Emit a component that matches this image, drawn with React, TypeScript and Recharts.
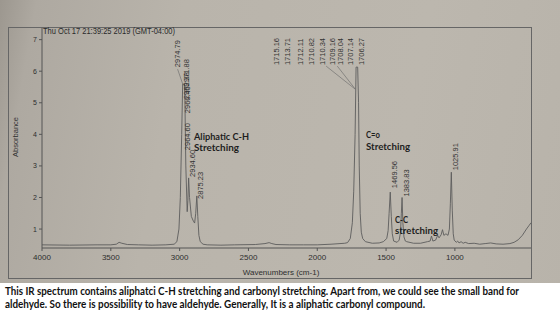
import React from 'react';
import { ComposedChart, Line, Scatter, XAxis, YAxis } from 'recharts';

// Spectrum: wavenumber (cm-1) and absorbance
const wavenumbers = [
  4000, 3800, 3600, 3500, 3460, 3440, 3420, 3380, 3300, 3200, 3100, 3040, 3020, 3005, 2995, 2985,
  2978, 2974.79, 2966, 2962, 2955, 2945, 2940, 2934.6, 2928, 2915, 2900, 2891, 2883, 2875.23, 2868,
  2860, 2850, 2830, 2800, 2700, 2600, 2450, 2380, 2350, 2330, 2300, 2200, 2100, 2000, 1900, 1800,
  1780, 1760, 1745, 1735, 1725, 1718, 1706.27, 1700, 1695, 1688, 1680, 1670, 1650, 1600, 1550,
  1520, 1495, 1485, 1478, 1469.56, 1462, 1455, 1445, 1420, 1405, 1395, 1389, 1383.83, 1378, 1370,
  1360, 1350, 1300, 1250, 1200, 1180, 1170, 1160, 1140, 1125, 1115, 1100, 1090, 1080, 1065, 1050,
  1040, 1033, 1025.91, 1019, 1012, 1005, 990, 980, 970, 955, 940, 925, 900, 860, 820, 780, 740,
  700, 650, 600, 570, 540, 510, 480, 460, 447,
];
const absorbance = [
  0.5, 0.49, 0.5, 0.5, 0.52, 0.58, 0.55, 0.51, 0.5, 0.49, 0.5, 0.52, 0.6, 1.0, 2.0, 4.0,
  5.59, 5.59, 5.59, 5.2, 3.0, 1.55, 1.9, 2.62, 2.0, 1.4, 1.25, 1.19, 1.5, 2.05, 1.4,
  0.8, 0.6, 0.52, 0.5, 0.49, 0.5, 0.51, 0.54, 0.57, 0.54, 0.51, 0.5, 0.5, 0.5, 0.52, 0.55,
  0.57, 0.7, 1.2, 2.2, 4.0, 6.13, 6.13, 5.0, 3.0, 1.5, 0.9, 0.7, 0.6, 0.55, 0.56,
  0.6, 0.7, 0.95, 1.5, 2.17, 1.4, 0.85, 0.62, 0.58, 0.65, 0.9, 1.5, 2.0, 1.2, 0.75,
  0.62, 0.6, 0.55, 0.55, 0.6, 0.62, 0.78, 0.62, 0.65, 0.8, 0.72, 0.82, 0.98, 0.8, 0.85, 0.8,
  1.0, 1.8, 2.8, 1.6, 0.85, 0.65, 0.58, 0.62, 0.56, 0.6, 0.55, 0.58, 0.54, 0.55, 0.52, 0.54, 0.56,
  0.53, 0.52, 0.54, 0.58, 0.66, 0.8, 1.0, 1.12, 1.2,
];

const xTicks = [4000, 3500, 3000, 2500, 2000, 1500, 1000];
const yTicks = [1, 2, 3, 4, 5, 6, 7];

// Peak picks: label text, wavenumber and height of the picked peak
const peakTexts = [
  '2974.79', '2971.88', '2969.38', '2966.45', '2964.60', '2934.60', '2875.23',
  '1715.16', '1713.71', '1712.11', '1710.82', '1710.34', '1709.16', '1708.04', '1707.14', '1706.27',
  '1469.56', '1383.83', '1025.91',
];
const peakWavenumbers = [
  2974.79, 2971.88, 2969.38, 2966.45, 2964.6, 2934.6, 2875.23,
  1715.16, 1713.71, 1712.11, 1710.82, 1710.34, 1709.16, 1708.04, 1707.14, 1706.27,
  1469.56, 1383.83, 1025.91,
];
const peakHeights = [
  5.59, 5.59, 5.59, 5.59, 5.59, 2.62, 2.05,
  6.13, 6.13, 6.13, 6.13, 6.13, 6.13, 6.13, 6.13, 6.13,
  2.17, 2.0, 2.8,
];

// layout of the peak labels (pixel offsets from the peak), and leader lines
const labelDx = [-5.5, 3, 3, 3, 3, 3.5, 3.5, -80, -69, -56.5, -46, -35, -25, -17, -7, 3.5, 4.5, 4, 4];
const labelDy = [-17, 2, 15, 29, 66, -1, 3, -2, -2, -2, -2, -2, -2, -2, -2, -2, -4, -1, -2];
const leaders: Record<number, number[]> = {
  0: [0, 2, 0, 1],
  11: [4, 1, -2, 22],
  12: [5, 1, -2, 22],
};

const spectrum = wavenumbers.map((wn, i) => ({ wn, abs: absorbance[i] }));
const peaks = peakWavenumbers.map((wn, i) => ({
  wn,
  abs: peakHeights[i],
  text: peakTexts[i],
  dx: labelDx[i],
  dy: labelDy[i],
  leader: leaders[i],
}));

const ARIAL = '"Liberation Sans", Arial, sans-serif';
const BOLD = 'Lato, "Open Sans", sans-serif';

const PeakLabel = (props: any) => {
  const { cx, cy, payload } = props;
  if (cx == null || cy == null) return <g />;
  const x = cx + payload.dx;
  const yb = cy + payload.dy;
  const ld = payload.leader;
  return (
    <g>
      {ld && (
        <line x1={x + ld[0]} y1={yb + ld[1]} x2={cx + ld[2]} y2={cy + ld[3]} stroke="#666" strokeWidth={0.6} />
      )}
      <text
        x={x}
        y={yb}
        transform={`rotate(-90 ${x} ${yb})`}
        fontSize={7.5}
        fontFamily={ARIAL}
        fill="#333"
        dominantBaseline="central"
        textAnchor="start"
      >
        {payload.text}
      </text>
    </g>
  );
};

export default function App() {
  return (
    <div
      style={{
        position: 'absolute',
        left: 0,
        top: 0,
        width: 560,
        height: 322,
        overflow: 'hidden',
        background: 'linear-gradient(100deg, #9c978f 0%, #aea9a1 6%, #b9b4ab 30%, #bcb7ae 70%, #b8b3aa 100%)',
      }}
    >
      <div style={{ position: 'absolute', left: 0, top: 0 }}>
        <ComposedChart width={560} height={283} margin={{ top: 27, right: 29, bottom: 0, left: 0 }}>
          <XAxis
            dataKey="wn"
            type="number"
            domain={[447, 4000]}
            reversed
            allowDataOverflow
            ticks={xTicks}
            tickSize={3}
            tickMargin={3}
            height={35}
            stroke="#555"
            tick={{ fontSize: 8, fill: '#2e2e2e', fontFamily: ARIAL }}
          />
          <YAxis
            type="number"
            domain={[0.4, 7.4]}
            allowDataOverflow
            ticks={yTicks}
            width={42}
            tickSize={3}
            tickMargin={2}
            stroke="#555"
            tick={{ fontSize: 7, fill: '#2e2e2e', fontFamily: ARIAL }}
          />
          <Line
            data={spectrum}
            dataKey="abs"
            type="linear"
            stroke="#5c5c5c"
            strokeWidth={0.9}
            dot={false}
            isAnimationActive={false}
          />
          <Scatter data={peaks} dataKey="abs" shape={PeakLabel} isAnimationActive={false} />
        </ComposedChart>
      </div>
      <svg
        width={560}
        height={322}
        style={{ position: 'absolute', left: 0, top: 0, pointerEvents: 'none' }}
      >
        <rect x={8.5} y={27.5} width={523} height={251} fill="none" stroke="#666" strokeWidth={1} />
        <text x={43} y={34} fontSize={8.3} fontFamily={ARIAL} fill="#2a2a2a" textLength={132} lengthAdjust="spacingAndGlyphs">
          Thu Oct 17 21:39:25 2019 (GMT-04:00)
        </text>
        <text
          x={15}
          y={137}
          transform="rotate(-90 15 137)"
          fontSize={7.5}
          fontFamily={ARIAL}
          fill="#333"
          textAnchor="middle"
          dominantBaseline="central"
        >
          Absorbance
        </text>
        <text x={281} y={275} fontSize={8} fontFamily={ARIAL} fill="#2e2e2e" textAnchor="middle">
          Wavenumbers (cm-1)
        </text>
        <g fontFamily={BOLD} fontWeight={700} fontSize={9.2} fill="#1e1e1e">
          <text x={194} y={139.5} textLength={55} lengthAdjust="spacingAndGlyphs">Aliphatic C-H</text>
          <text x={194} y={150.5} textLength={45} lengthAdjust="spacingAndGlyphs">Stretching</text>
          <text x={366} y={138} textLength={14} lengthAdjust="spacingAndGlyphs">C=o</text>
          <text x={366} y={150} textLength={44} lengthAdjust="spacingAndGlyphs">Stretching</text>
          <text x={395} y={222.5} textLength={13} lengthAdjust="spacingAndGlyphs">C-C</text>
          <text x={395} y={234} textLength={43} lengthAdjust="spacingAndGlyphs">stretching</text>
        </g>
        <rect x={0} y={283} width={560} height={39} fill="#ffffff" />
        <g fontFamily={BOLD} fontWeight={700} fontSize={10.5} fill="#111">
          <text x={5} y={295} textLength={514} lengthAdjust="spacingAndGlyphs">
            This IR spectrum contains aliphatci C-H stretching and carbonyl stretching. Apart from, we could see the small band for
          </text>
          <text x={5} y={307.5} textLength={420} lengthAdjust="spacingAndGlyphs">
            aldehyde. So there is possibility to have aldehyde. Generally, It is a aliphatic carbonyl compound.
          </text>
        </g>
      </svg>
    </div>
  );
}
